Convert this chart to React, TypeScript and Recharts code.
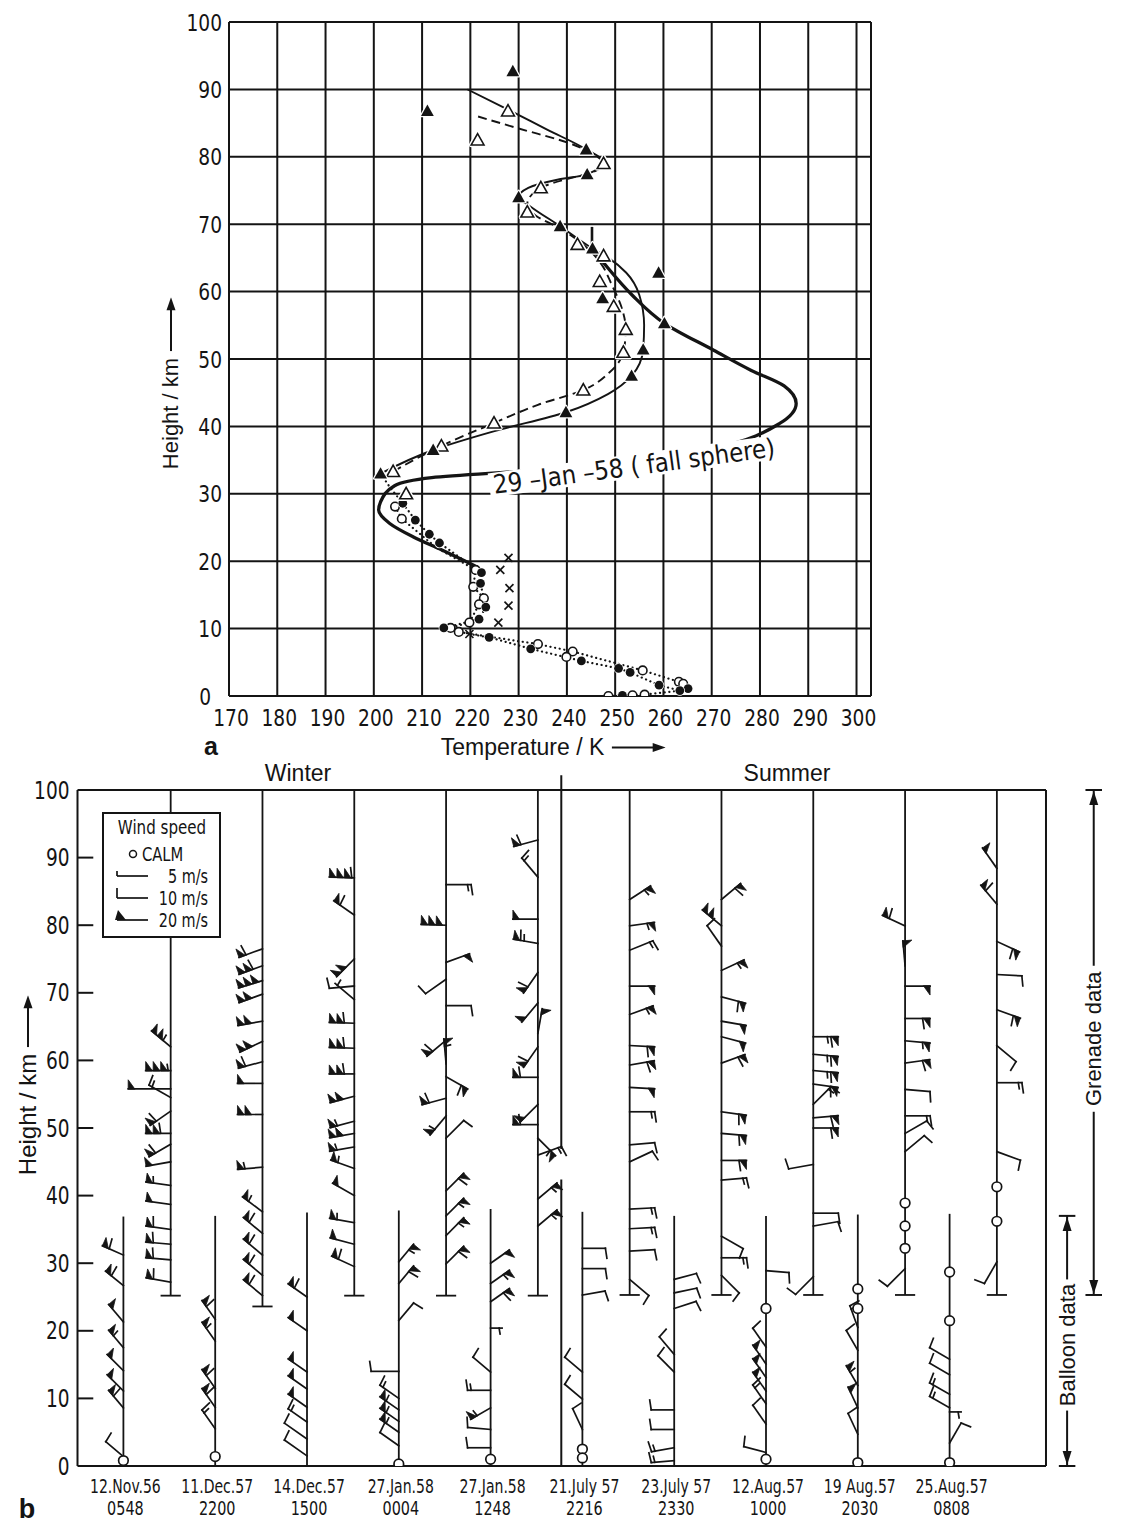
import React from 'react';
import {
  ComposedChart,
  Line,
  Scatter,
  XAxis,
  YAxis,
  CartesianGrid,
  ReferenceLine,
  ReferenceDot,
} from 'recharts';

const INK = '#141414';
const COND = "'DejaVu Sans Condensed', 'DejaVu Sans', sans-serif";
const SANS = "'Liberation Sans', Arial, sans-serif";

// ---------- panel a: temperature profiles, points are [K, km]
const tempTicks = [170, 180, 190, 200, 210, 220, 230, 240, 250, 260, 270, 280, 290, 300];
const heightTicks = [0, 10, 20, 30, 40, 50, 60, 70, 80, 90, 100];

const fallSphere = [
  [221, 19.3], [214, 21.7], [208.2, 23.6], [203.3, 25.6], [201, 27.6], [201.4, 28.8],
  [204.3, 31.2], [212, 32.4], [231.6, 33.4], [251, 34.5], [270.5, 36.8], [284, 40.4],
  [287.5, 43.4], [285, 46], [278.2, 48.3], [270.4, 51.3], [260.2, 55.3], [253.5, 59.5],
  [248.5, 63.5], [245.3, 66.4],
];
const grenadeSolid = [
  [201.4, 33], [212.3, 36.5], [225, 39.3], [239.8, 42.1], [248.5, 44.8], [253.4, 47.5],
  [255.8, 51.4], [256, 55], [255, 59.5], [252.3, 62.8], [248.6, 65], [245.3, 66.4],
  [238.6, 69.7], [232.5, 72.6], [230, 74], [232, 75.4], [238, 76.6], [244.2, 77.4],
  [247.5, 79.3], [244, 81.1], [236, 84], [227.8, 87], [219.4, 90],
];
const grenadeDashed = [
  [204, 33.3], [214, 37.1], [224.9, 40.5], [234, 43.2], [243.4, 45.4], [248.8, 48],
  [251.7, 51], [252.2, 54.4], [251.4, 57.5], [249.3, 61], [247.2, 64], [244.3, 66.4],
  [238.5, 69.4], [233.5, 71.3], [231.8, 73], [234.6, 75.4], [240, 76.7], [245, 77.6],
  [247.6, 79], [245.5, 80.4], [240.6, 82], [230, 84.2], [221.5, 86],
];
const shortBar = [[245.2, 66.6], [245.2, 69.6]];
const balloonDotted = [
  [201.4, 33], [203.5, 30.8], [206, 28.6], [208.6, 26.1], [211.5, 24], [213.6, 22.7],
  [222.3, 18.3], [222.1, 16.7], [223.2, 13.2], [221.8, 11.4], [214.5, 10.1], [219.8, 9.2],
  [223.9, 8.7], [232.5, 7], [243, 5.2], [250.7, 4.1], [253.1, 3.5], [259.1, 1.6], [263.4, 0.8],
];
const balloonOpenDotted = [
  [204.4, 28.1], [205.8, 26.3], [213, 22], [221.1, 18.7], [220.6, 16.2], [222.8, 14.5],
  [221.8, 13.6], [219.8, 10.9], [215.9, 10.1], [217.6, 9.5], [234, 7.7], [241.2, 6.6],
  [255.7, 3.8], [263.2, 2.1], [264.1, 1.8], [265.1, 1.1],
];
const surfaceDotted = [[248.6, 0], [251.5, 0.1], [253.6, 0.1], [256.1, 0.2], [263.4, 0.8], [265.1, 1.1]];

const filledTriangles = [
  [228.8, 92.7], [211.1, 86.8], [244, 81.1], [244.2, 77.4], [230, 74], [238.6, 69.7],
  [245.3, 66.4], [259, 62.8], [247.4, 59], [260.2, 55.3], [255.8, 51.4], [253.4, 47.5],
  [239.8, 42.1], [212.3, 36.5], [201.4, 33],
];
const openTriangles = [
  [227.8, 86.8], [221.5, 82.5], [247.6, 79], [234.6, 75.4], [231.8, 71.8], [242.2, 67],
  [247.6, 65.3], [246.8, 61.5], [249.7, 57.8], [252.2, 54.4], [251.7, 51], [243.4, 45.4],
  [224.9, 40.5], [214, 37.1], [204, 33.3], [206.7, 30],
];
const filledDots = [
  [206, 28.6], [208.6, 26.1], [211.5, 24], [213.6, 22.7], [222.3, 18.3], [222.1, 16.7],
  [223.2, 13.2], [221.8, 11.4], [214.5, 10.1], [223.9, 8.7], [232.5, 7], [243, 5.2],
  [250.7, 4.1], [253.1, 3.5], [259.1, 1.6], [265.1, 1.1], [263.4, 0.8], [251.5, 0.1],
];
const openDots = [
  [204.4, 28.1], [205.8, 26.3], [221.1, 18.7], [220.6, 16.2], [222.8, 14.5], [221.8, 13.6],
  [219.8, 10.9], [215.9, 10.1], [217.6, 9.5], [234, 7.7], [241.2, 6.6], [239.9, 5.8],
  [255.7, 3.8], [263.2, 2.1], [264.1, 1.8], [248.6, 0], [253.6, 0.1], [256.1, 0.2],
];
const crosses = [[227.9, 20.5], [226.2, 18.7], [228.1, 16], [227.9, 13.4], [225.8, 10.9], [219.8, 9.2]];

// ---------- panel b: wind barbs, entries are [km, direction deg, speed m/s, shaft scale?]
const stationDates = ['12.Nov.56', '11.Dec.57', '14.Dec.57', '27.Jan.58', '27.Jan.58', '21.July 57', '23.July 57', '12.Aug.57', '19 Aug.57', '25.Aug.57'];
const stationTimes = ['0548', '2200', '1500', '0004', '1248', '2216', '2330', '1000', '2030', '0808'];
const stationIdx = [1, 2, 3, 4, 5, 6, 7, 8, 9, 10];
const balloonTop = [36.9, 37, 37.5, 37.8, 38, 37.6, 37, 37, 37.2, 37.3];
const grenadeBase = [25.2, 23.6, 25.2, 25.2, 25.2, 25.3, 25.3, 25.3, 25.3, 25.3];

const nov56Balloon = [[31.2, 156, 30], [26.7, 141, 30], [21.3, 130, 20], [17.5, 130, 25], [14.1, 135, 20], [11.1, 135, 20], [8.6, 130, 30], [1.4, 140, 10]];
const nov56Grenade = [[62, 140, 45], [58.5, 180, 65], [55.8, 180, 20, 1.7], [54.5, 150, 15], [52.5, 215, 30], [49.2, 180, 50], [47.6, 210, 30], [45, 190, 20], [41.5, 172, 25], [38.7, 172, 20], [35, 172, 30], [32.8, 175, 30], [30.5, 175, 30], [27.2, 170, 30]];
const dec11Balloon = [[21.7, 125, 30], [18.5, 125, 25], [11.5, 125, 30], [8.7, 125, 30], [5.5, 125, 15]];
const dec11Grenade = [[76.5, 200, 30], [74, 200, 50], [71.8, 197, 60], [69.8, 200, 40], [65.8, 190, 40], [62.8, 205, 40], [59.8, 195, 30], [56.6, 180, 20], [52, 180, 40], [44.2, 185, 25], [37.6, 143, 25], [34.4, 140, 30], [31.2, 140, 30], [28.2, 140, 30], [25.2, 140, 30]];
const dec14Balloon = [[25, 145, 30], [20, 145, 20], [13.9, 145, 20], [11.4, 145, 20], [8.7, 145, 20], [6.5, 145, 15], [4, 145, 10, 1.2], [1.5, 145, 10, 1.2]];
const dec14Grenade = [[87, 178, 70], [81.5, 145, 30], [75, 225, 40], [71, 185, 10], [69, 140, 5], [65.5, 178, 50], [61.8, 178, 50], [58, 180, 50], [54.7, 195, 40], [51, 195, 25], [49.2, 190, 40], [47.2, 190, 25], [44, 160, 25], [40, 150, 20], [36, 170, 25], [32.8, 165, 20], [29.5, 155, 30]];
const jan27aBalloon = [[30.2, 50, 25], [27, 50, 30], [21.5, 50, 10], [14, 180, 10, 1.2], [10, 145, 15], [8.3, 145, 25], [6.6, 145, 25], [5, 145, 25], [3, 145, 10]];
const jan27aGrenade = [[86, 0, 15], [80, 178, 60], [74.5, 20, 20], [72, 215, 10], [68.1, 0, 10], [63, 220, 30], [59.5, 95, 25], [57.6, -30, 30], [54.4, 195, 30], [51.8, 230, 25], [48.5, 45, 10], [40.7, 45, 30], [37, 45, 25], [34.1, 45, 25], [29.9, 45, 30]];
const jan27bBalloon = [[30, 35, 20], [27, 35, 25], [24.3, 35, 30], [20.4, 0, 5, 0.5], [13.9, 140, 10], [11.2, 180, 15], [8.6, 210, 25], [5.4, 175, 10], [2.7, 180, 10]];
const jan27bGrenade = [[92.6, 195, 30], [87.1, 130, 15], [80.9, 180, 20], [77.3, 170, 35], [73, 235, 30], [68.5, 230, 20], [64, 80, 20], [62, 235, 30], [57.5, 180, 30], [53.5, 225, 20], [50.5, 180, 30], [48.5, -45, 25], [46, 20, 15], [39.5, 40, 25], [35.5, 40, 25]];
const jul21Balloon = [[32.2, 0, 10], [29.2, 0, 10], [25.3, 10, 10], [13.9, 140, 10], [9.9, 140, 10], [5.4, 115, 10]];
const jul21Grenade = [[83.8, 33, 25], [79.9, 8, 25], [76.3, 22, 15], [71, 0, 20], [66.8, 20, 25], [62.2, -3, 30], [59.3, 10, 30], [56, -3, 20], [52.4, 0, 15], [47.5, 5, 10], [45, 25, 10], [38, 3, 15], [35.1, 3, 15], [31.8, 3, 10], [27.6, -40, 10]];
const jul23Balloon = [[27.6, 15, 10], [25.6, 12, 10], [23.3, 18, 10], [16.5, 130, 10], [13.9, 135, 10], [8.3, 180, 10], [5.4, 180, 10], [2.7, 190, 15], [0.8, 185, 15]];
const jul23Grenade = [[83.8, 40, 30], [79.9, 140, 40], [76.9, 125, 10], [73.3, 25, 25], [69.4, -15, 30], [65.8, -10, 20], [63.5, -15, 20], [59.6, 20, 30], [52.4, -8, 30], [49.2, -5, 30], [45.2, 0, 30], [42.3, 5, 15], [34, -30, 10], [30.8, 0, 15], [28.2, -45, 10]];
const aug12Balloon = [[28.9, -5, 10], [17.6, 125, 10], [15.1, 125, 20], [13.1, 125, 20], [11.1, 125, 20], [9.2, 125, 15], [6.2, 125, 10], [2, 165, 10]];
const aug12Grenade = [[63.5, 0, 35], [60.9, -5, 35], [58.5, -5, 35], [56.5, -8, 30], [53.5, 45, 15], [51.5, 5, 30], [50, 0, 30], [44.6, 190, 10], [37.4, 0, 10], [35.5, 10, 10], [28, 225, 10]];
const aug19Balloon = [[20.5, 110, 15], [17.1, 120, 10], [11.9, 120, 25], [8.6, 115, 20], [4.7, 115, 10]];
const aug19Grenade = [[79.9, 155, 30], [74, 95, 20], [71, 0, 20], [66.2, 0, 30], [62.9, -5, 25], [59.6, 8, 30], [55.7, -5, 10], [51.8, 0, 15], [49.2, 30, 10], [46.5, 40, 10], [29.2, 225, 10]];
const aug25Balloon = [[15.8, 150, 10], [13.5, 150, 10], [10.6, 150, 15], [8.6, 150, 15], [8, 0, 5, 0.5], [3.4, 60, 10]];
const aug25Grenade = [[88.4, 125, 20], [83.1, 130, 30], [77.6, -25, 30], [72.7, -3, 10], [67.5, -20, 30], [62.2, -40, 10], [56.7, 0, 15], [46.5, -20, 10], [30.2, 240, 10]];

const balloonCalm = [[0.8], [1.4], [], [0.3], [1], [2.5, 1.2], [], [23.3, 1], [26.2, 23.3, 0.5], [28.7, 21.5, 0.5]];
const grenadeCalm = [[], [], [], [], [], [], [], [], [38.9, 35.5, 32.2], [41.3, 36.2]];

const balloonBarbs = [nov56Balloon, dec11Balloon, dec14Balloon, jan27aBalloon, jan27bBalloon, jul21Balloon, jul23Balloon, aug12Balloon, aug19Balloon, aug25Balloon];
const grenadeBarbs = [nov56Grenade, dec11Grenade, dec14Grenade, jan27aGrenade, jan27bGrenade, jul21Grenade, jul23Grenade, aug12Grenade, aug19Grenade, aug25Grenade];

// layout constants for panel b (x in station units)
const G_OFF = 0.515;
const FRAME_RIGHT = 11.05;
const DIVIDER_X = 5.77;
const BALLOON_ARROW_X = 11.28;
const GRENADE_ARROW_X = 11.57;

const pts = (a: number[][]) => a.map(([t, h]) => ({ t, h }));

const barbPoints = [
  ...balloonBarbs.flatMap((list, i) =>
    list.map(([y, dir, spd, len]) => ({ x: i + 1, y, dir, spd, len: (len ?? 1) * 23 }))),
  ...grenadeBarbs.flatMap((list, i) =>
    list.map(([y, dir, spd, len]) => ({ x: i + 1 + G_OFF, y, dir, spd, len: (len ?? 1) * 25 }))),
];
const calmPoints = [
  ...balloonCalm.flatMap((list, i) => list.map((y) => ({ x: i + 1, y }))),
  ...grenadeCalm.flatMap((list, i) => list.map((y) => ({ x: i + 1 + G_OFF, y }))),
];

// ---------- text helpers (condensed look via horizontal scale)
const CondText = ({ x, y, anchor = 'start', size, sx = 0.8, children, weight }: any) => (
  <text
    transform={`translate(${x},${y}) scale(${sx},1)`}
    textAnchor={anchor}
    fontSize={size}
    fontFamily={COND}
    fontWeight={weight}
    fill={INK}
  >
    {children}
  </text>
);

const XTickA = ({ x, y, payload }: any) => (
  <CondText x={x + 2} y={y + 17} anchor="middle" size={23} sx={0.9}>{payload.value}</CondText>
);
// the single-digit 0 sits in the units column, like the original typesetting
const YTickA = ({ x, y, payload }: any) => (
  <CondText x={payload.value === 0 ? x - 11 : x} y={y + 8.5} anchor="end" size={23} sx={0.9}>{payload.value}</CondText>
);
const YTickB = ({ x, y, payload }: any) => (
  <CondText x={x} y={y + 8.5} anchor="end" size={24} sx={0.86}>{payload.value}</CondText>
);
const StationTick = ({ x, y, payload }: any) => {
  const i = Math.round(payload.value) - 1;
  return (
    <g>
      <CondText x={x + 2} y={y + 27} anchor="middle" size={20} sx={0.78}>{stationDates[i]}</CondText>
      <CondText x={x + 2} y={y + 49} anchor="middle" size={20} sx={0.8}>{stationTimes[i]}</CondText>
    </g>
  );
};

// ---------- shapes
const tri = (cx: number, cy: number, s: number) =>
  `${cx},${cy - s} ${cx + s},${cy + s * 0.78} ${cx - s},${cy + s * 0.78}`;

const FilledTri = ({ cx, cy }: any) => (
  <polygon points={tri(cx, cy, 6.4)} fill={INK} stroke="#fff" strokeWidth={2.5} paintOrder="stroke" strokeLinejoin="round" />
);
const OpenTri = ({ cx, cy }: any) => (
  <g>
    <polygon points={tri(cx, cy, 6.4)} fill="#fff" stroke="#fff" strokeWidth={4.5} strokeLinejoin="round" />
    <polygon points={tri(cx, cy, 6.4)} fill="#fff" stroke={INK} strokeWidth={1.6} />
  </g>
);
const FilledDot = ({ cx, cy }: any) => (
  <circle cx={cx} cy={cy} r={4.4} fill={INK} stroke="#fff" strokeWidth={1.5} paintOrder="stroke" />
);
const OpenDot = ({ cx, cy }: any) => (
  <circle cx={cx} cy={cy} r={4.3} fill="#fff" stroke={INK} strokeWidth={1.6} />
);
const Cross = ({ cx, cy }: any) => (
  <g stroke={INK} strokeWidth={1.7}>
    <line x1={cx - 4} y1={cy - 4} x2={cx + 4} y2={cy + 4} />
    <line x1={cx - 4} y1={cy + 4} x2={cx + 4} y2={cy - 4} />
  </g>
);

const FallSphereLabel = ({ cx, cy }: any) => (
  <g transform={`rotate(-7.6 ${cx} ${cy})`}>
    <rect x={cx - 146} y={cy - 12} width={292} height={24} fill="#fff" />
    <g transform={`translate(${cx},${cy + 9}) scale(0.98,1)`}>
      <text x={0} y={0} textAnchor="middle" fontSize={26} fontFamily={COND} fill={INK}>
        29 –Jan –58 ( fall sphere)
      </text>
    </g>
  </g>
);

const BarbShape = ({ cx, cy, payload }: any) => {
  const { dir, spd, len } = payload;
  const a = (dir * Math.PI) / 180;
  const ux = Math.cos(a);
  const uy = -Math.sin(a);
  const pa = ((dir - 90) * Math.PI) / 180;
  const px = Math.cos(pa);
  const py = -Math.sin(pa);
  const tx = cx + ux * len;
  const ty = cy + uy * len;
  const parts: React.ReactNode[] = [];
  let s = spd;
  let d = 0;
  let k = 0;
  while (s >= 20) {
    const b1x = tx - ux * d, b1y = ty - uy * d;
    const b2x = tx - ux * (d + 6.5), b2y = ty - uy * (d + 6.5);
    parts.push(<polygon key={k++} points={`${b1x},${b1y} ${b1x + px * 9},${b1y + py * 9} ${b2x},${b2y}`} fill={INK} stroke={INK} strokeWidth={0.8} />);
    d += 7.5;
    s -= 20;
  }
  while (s >= 10) {
    const bx = tx - ux * d, by = ty - uy * d;
    parts.push(<line key={k++} x1={bx} y1={by} x2={bx + px * 10 + ux * 1.5} y2={by + py * 10 + uy * 1.5} />);
    d += 3.6;
    s -= 10;
  }
  if (s >= 5) {
    if (d === 0) d = 3;
    const bx = tx - ux * d, by = ty - uy * d;
    parts.push(<line key={k++} x1={bx} y1={by} x2={bx + px * 6 + ux} y2={by + py * 6 + uy} />);
  }
  return (
    <g stroke={INK} strokeWidth={1.7} strokeLinecap="square">
      <line x1={cx} y1={cy} x2={tx} y2={ty} />
      {parts}
    </g>
  );
};

const CalmShape = ({ cx, cy }: any) => (
  <circle cx={cx} cy={cy} r={4.8} fill="#fff" stroke={INK} strokeWidth={1.7} />
);

const ArrowHead = (up: boolean) => ({ cx, cy }: any) => {
  const sgn = up ? 1 : -1;
  return <polygon points={`${cx},${cy + sgn * 1} ${cx - 4.5},${cy + sgn * 15} ${cx + 4.5},${cy + sgn * 15}`} fill={INK} />;
};
const SideLabel = (text: string) => ({ cx, cy }: any) => (
  <text x={cx} y={cy} transform={`rotate(-90 ${cx} ${cy})`} textAnchor="middle" dominantBaseline="central" fontSize={22} fontFamily={SANS} fill={INK}>
    {text}
  </text>
);

const Arrow = ({ len = 52 }: { len?: number }) => (
  <svg width={len} height={12} style={{ display: 'block' }}>
    <line x1={0} y1={6} x2={len - 10} y2={6} stroke={INK} strokeWidth={2} />
    <polygon points={`${len},6 ${len - 13},1.5 ${len - 13},10.5`} fill={INK} />
  </svg>
);

const Overlay = ({ x, y, rotate = 0, children, style }: any) => (
  <div
    style={{
      position: 'absolute', left: x, top: y,
      transform: `translate(-50%, -50%) rotate(${rotate}deg)`,
      whiteSpace: 'nowrap', display: 'flex', alignItems: 'center', gap: 7,
      color: INK, lineHeight: 1, fontFamily: SANS, ...style,
    }}
  >
    {children}
  </div>
);

const lineStyle = { stroke: INK, dot: false, isAnimationActive: false } as const;
const refStroke = { stroke: INK, strokeWidth: 1.8, ifOverflow: 'visible' as const };

function PanelA() {
  return (
    <ComposedChart width={1136} height={760} margin={{ top: 22, right: 265, bottom: 34, left: 179 }}>
      <CartesianGrid stroke={INK} strokeWidth={2} />
      <XAxis
        type="number" dataKey="t" domain={[170, 303]} ticks={tempTicks} allowDataOverflow interval={0}
        axisLine={false} tickLine={false} tickSize={0} tickMargin={13} height={30} tick={<XTickA />}
      />
      <YAxis
        type="number" dataKey="h" domain={[0, 100]} ticks={heightTicks} allowDataOverflow interval={0}
        axisLine={false} tickLine={false} tickSize={0} tickMargin={7} width={50} tick={<YTickA />}
      />
      <ReferenceLine segment={[{ x: 170, y: 100 }, { x: 303, y: 100 }]} stroke={INK} strokeWidth={2} />
      <ReferenceLine segment={[{ x: 170, y: 0 }, { x: 303, y: 0 }]} stroke={INK} strokeWidth={2} />
      <ReferenceLine segment={[{ x: 170, y: 0 }, { x: 170, y: 100 }]} stroke={INK} strokeWidth={2} />
      <ReferenceDot x={253.9} y={34.1} r={0} ifOverflow="visible" shape={FallSphereLabel} />
      <Line data={pts(fallSphere)} dataKey="h" type="monotoneY" strokeWidth={3.3} {...lineStyle} />
      <Line data={pts(grenadeSolid)} dataKey="h" type="monotoneY" strokeWidth={1.9} {...lineStyle} />
      <Line data={pts(grenadeDashed)} dataKey="h" type="monotoneY" strokeWidth={1.9} strokeDasharray="9 5" {...lineStyle} />
      <Line data={pts(shortBar)} dataKey="h" type="linear" strokeWidth={2.6} {...lineStyle} />
      <Line data={pts(balloonDotted)} dataKey="h" type="linear" strokeWidth={2.2} strokeDasharray="0.1 4.6" strokeLinecap="round" {...lineStyle} />
      <Line data={pts(balloonOpenDotted)} dataKey="h" type="linear" strokeWidth={2.2} strokeDasharray="0.1 4.6" strokeLinecap="round" {...lineStyle} />
      <Line data={pts(surfaceDotted)} dataKey="h" type="linear" strokeWidth={2.2} strokeDasharray="0.1 4.6" strokeLinecap="round" {...lineStyle} />
      <Scatter data={pts(crosses)} shape={Cross} isAnimationActive={false} />
      <Scatter data={pts(openDots)} shape={OpenDot} isAnimationActive={false} />
      <Scatter data={pts(filledDots)} shape={FilledDot} isAnimationActive={false} />
      <Scatter data={pts(openTriangles)} shape={OpenTri} isAnimationActive={false} />
      <Scatter data={pts(filledTriangles)} shape={FilledTri} isAnimationActive={false} />
    </ComposedChart>
  );
}

function PanelB() {
  const refs: React.ReactNode[] = [];
  let k = 0;
  const seg = (x1: number, y1: number, x2: number, y2: number, w = 1.8) =>
    refs.push(<ReferenceLine key={`s${k++}`} segment={[{ x: x1, y: y1 }, { x: x2, y: y2 }]} {...refStroke} strokeWidth={w} />);

  seg(0.5, 100, FRAME_RIGHT, 100, 2);
  seg(0.5, 0, FRAME_RIGHT, 0, 2.2);
  seg(FRAME_RIGHT, 0, FRAME_RIGHT, 100, 2);
  heightTicks.slice(1, -1).forEach((h) => seg(0.5, h, 0.672, h, 2));
  seg(DIVIDER_X, 102.2, DIVIDER_X, 46.9, 2);
  seg(DIVIDER_X, 42.4, DIVIDER_X, 0, 2);
  balloonTop.forEach((top, i) => seg(i + 1, 0, i + 1, top));
  grenadeBase.forEach((b, i) => {
    seg(i + 1 + G_OFF, b, i + 1 + G_OFF, 100);
    seg(i + 1 + G_OFF - 0.11, b, i + 1 + G_OFF + 0.11, b);
  });
  // side arrows
  seg(GRENADE_ARROW_X, 100, GRENADE_ARROW_X, 74, 2);
  seg(GRENADE_ARROW_X, 52.4, GRENADE_ARROW_X, 25.3, 2);
  seg(GRENADE_ARROW_X - 0.09, 100, GRENADE_ARROW_X + 0.09, 100, 2);
  seg(GRENADE_ARROW_X - 0.09, 25.3, GRENADE_ARROW_X + 0.09, 25.3, 2);
  seg(BALLOON_ARROW_X, 37, BALLOON_ARROW_X, 27.6, 2);
  seg(BALLOON_ARROW_X, 8.2, BALLOON_ARROW_X, 0, 2);
  seg(BALLOON_ARROW_X - 0.09, 37, BALLOON_ARROW_X + 0.09, 37, 2);
  seg(BALLOON_ARROW_X - 0.09, 0, BALLOON_ARROW_X + 0.09, 0, 2);

  return (
    <ComposedChart width={1136} height={771} margin={{ top: 30, right: 25.75, bottom: 5, left: 32.5 }}>
      <XAxis
        type="number" dataKey="x" domain={[0.5, 11.75]} ticks={stationIdx} allowDataOverflow interval={0}
        axisLine={false} tickLine={false} tickSize={0} tickMargin={0} height={60} tick={<StationTick />}
      />
      <YAxis
        type="number" dataKey="y" domain={[0, 100]} ticks={heightTicks} allowDataOverflow interval={0}
        axisLine={{ stroke: INK, strokeWidth: 2 }} tickLine={false} tickSize={0} tickMargin={8} width={45}
        tick={<YTickB />}
      />
      {refs}
      <ReferenceDot x={GRENADE_ARROW_X} y={100} r={0} ifOverflow="visible" shape={ArrowHead(true)} />
      <ReferenceDot x={GRENADE_ARROW_X} y={25.3} r={0} ifOverflow="visible" shape={ArrowHead(false)} />
      <ReferenceDot x={BALLOON_ARROW_X} y={37} r={0} ifOverflow="visible" shape={ArrowHead(true)} />
      <ReferenceDot x={BALLOON_ARROW_X} y={0} r={0} ifOverflow="visible" shape={ArrowHead(false)} />
      <ReferenceDot x={GRENADE_ARROW_X} y={63.2} r={0} ifOverflow="visible" shape={SideLabel('Grenade data')} />
      <ReferenceDot x={BALLOON_ARROW_X} y={17.9} r={0} ifOverflow="visible" shape={SideLabel('Balloon data')} />
      <Scatter data={barbPoints} shape={BarbShape} isAnimationActive={false} />
      <Scatter data={calmPoints} shape={CalmShape} isAnimationActive={false} />
    </ComposedChart>
  );
}

function WindLegend() {
  return (
    <svg width={122} height={128} style={{ position: 'absolute', left: 102, top: 812 }}>
      <rect x={1} y={1} width={117} height={124} fill="#fff" stroke={INK} strokeWidth={2} />
      <CondText x={60} y={22} anchor="middle" size={20} sx={0.84}>Wind speed</CondText>
      <circle cx={31} cy={42} r={3.5} fill="#fff" stroke={INK} strokeWidth={1.5} />
      <CondText x={40} y={49} size={20} sx={0.82}>CALM</CondText>
      <g stroke={INK} strokeWidth={1.7}>
        <line x1={15} y1={64} x2={46} y2={64} />
        <line x1={15} y1={64} x2={15} y2={59} />
        <line x1={15} y1={86} x2={46} y2={86} />
        <line x1={15} y1={86} x2={15} y2={76} />
        <line x1={15} y1={108} x2={46} y2={108} />
      </g>
      <polygon points="13,108 24,108 16,98" fill={INK} />
      <CondText x={106} y={71} anchor="end" size={20} sx={0.8}>5 m/s</CondText>
      <CondText x={106} y={93} anchor="end" size={20} sx={0.8}>10 m/s</CondText>
      <CondText x={106} y={115} anchor="end" size={20} sx={0.8}>20 m/s</CondText>
    </svg>
  );
}

export default function App() {
  return (
    <div style={{ position: 'absolute', left: 0, top: 0, width: 1136, height: 1531, background: '#fff', overflow: 'hidden' }}>
      <div style={{ position: 'absolute', left: 0, top: 0 }}>
        <PanelA />
      </div>
      <div style={{ position: 'absolute', left: 0, top: 760 }}>
        <PanelB />
      </div>
      <WindLegend />

      <Overlay x={171} y={383} rotate={-90} style={{ fontSize: 22 }}>
        <span>Height / km</span>
        <Arrow len={54} />
      </Overlay>
      <Overlay x={553} y={747} style={{ fontSize: 23 }}>
        <span>Temperature / K</span>
        <Arrow len={54} />
      </Overlay>
      <Overlay x={211} y={746} style={{ fontSize: 25, fontWeight: 700 }}>a</Overlay>

      <Overlay x={298} y={773} style={{ fontSize: 23 }}>Winter</Overlay>
      <Overlay x={787} y={773} style={{ fontSize: 23 }}>Summer</Overlay>
      <Overlay x={28} y={1085} rotate={-90} style={{ fontSize: 24 }}>
        <span>Height / km</span>
        <Arrow len={52} />
      </Overlay>
      <Overlay x={27} y={1509} style={{ fontSize: 27, fontWeight: 700 }}>b</Overlay>
    </div>
  );
}
